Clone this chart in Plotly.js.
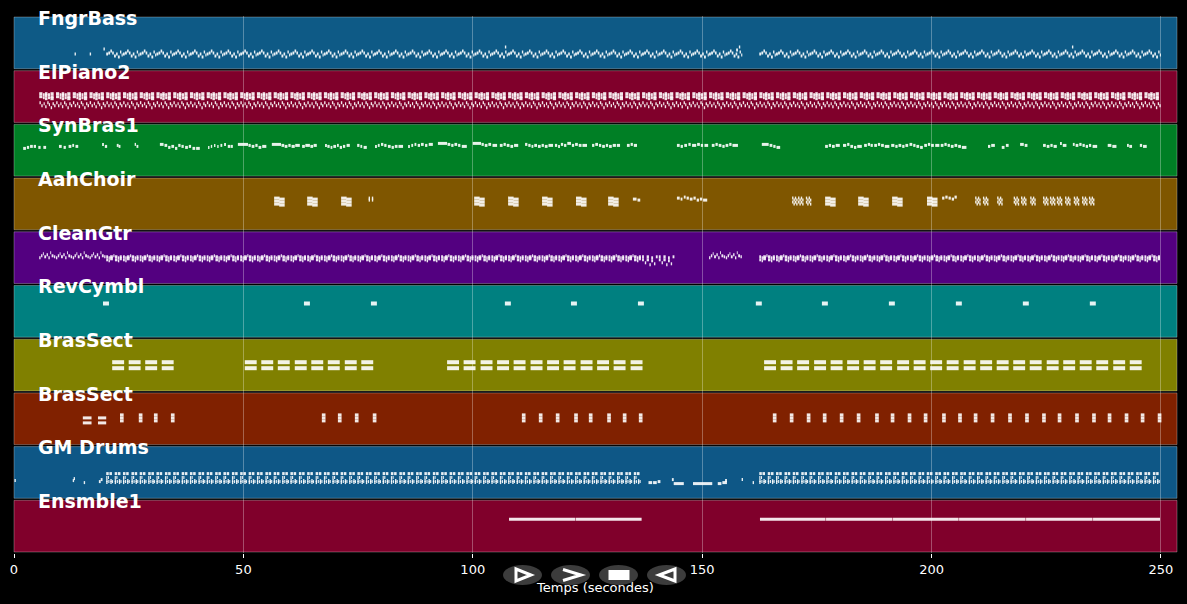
<!DOCTYPE html>
<html><head><meta charset="utf-8">
<script src="https://cdn.plot.ly/plotly-3.0.1.min.js"></script>
<style>html,body{margin:0;padding:0;background:#000;}#chart{width:1187px;height:604px;}</style>
</head><body><div id="chart"></div>
<script>
// ---------- DATA ----------
const trackNames = ["FngrBass","ElPiano2","SynBras1","AahChoir","CleanGtr","RevCymbl","BrasSect","BrasSect","GM Drums","Ensmble1"];
const trackColors = ["#0e5a86","#80002b","#007f25","#7f5600","#530080","#008080","#808000","#802100","#0e5786","#80002b"];
const xTicks = [0,50,100,150,200,250];
const xTitle = "Temps (secondes)";

// bar start times (seconds) of the song grid
const barTimes = [5.50,9.15,12.80,16.45,20.10,23.75,27.40,31.05,34.70,38.35,42.00,45.65,49.30,52.95,56.60,60.25,63.90,67.55,71.20,74.85,78.50,82.15,85.80,89.45,93.10,96.75,100.40,104.05,107.70,111.35,115.00,118.65,122.30,125.95,129.60,133.25,136.90,140.55,144.20,147.85,151.50,155.15,158.80,162.45,166.10,169.75,173.40,177.05,180.70,184.35,188.00,191.65,195.30,198.95,202.60,206.25,209.90,213.55,217.20,220.85,224.50,228.15,231.80,235.45,239.10,242.75,246.40,250.05];

// motifs: [offset in bar (s), duration (s), pitch]
const bassBar = [[0.00,0.40,40],[0.45,0.40,41],[0.90,0.35,43],[1.30,0.35,41],[1.70,0.40,38],[2.15,0.35,40],[2.55,0.40,37],[3.00,0.30,42],[3.35,0.25,39]];
const bassBars = [[4,41],[43,66]];
const bassExtra = [[13.2,0.3,40],[16.5,0.3,40],[19.5,0.3,45],[107.0,0.3,47],[157.4,0.4,44],[158.0,0.3,47],[230.6,0.3,47]];

const pianoBar = [[0.00,0.70,67],[0.00,0.70,64],[0.80,0.40,66],[0.80,0.40,63],[1.25,0.55,67],[1.25,0.55,65],[1.25,0.55,62],[1.90,0.45,66],[1.90,0.45,63],[2.45,0.70,67],[2.45,0.70,64],[2.45,0.70,62],
  [0.05,0.30,58],[0.45,0.30,55],[0.95,0.25,57],[1.30,0.30,54],[1.75,0.30,58],[2.10,0.25,56],[2.50,0.30,53],[2.90,0.30,57],[3.25,0.30,55]];
const pianoBars = [[0,66]];

const synNotes = [[2.0,0.6,58],[2.8,0.5,59],[3.5,0.6,60],[4.3,0.5,60],[5.3,0.5,59],[6.4,0.6,59],
 [9.8,0.6,60],[10.8,0.5,59],[11.9,0.6,60],[12.7,0.4,61],[13.4,0.6,60],
 [19.2,0.4,62],[19.8,0.5,60],[22.4,0.4,61],[22.8,0.4,60],[26.3,0.3,62],[26.7,0.4,60],
 [31.8,0.8,62],[32.8,0.6,61],[33.6,0.5,59],[34.3,0.6,60],[35.1,0.5,58],[35.8,0.5,61],[36.5,0.5,60],[37.3,0.6,59],[38.1,0.5,60],[38.9,0.6,58],[39.7,0.8,58],
 [42.3,0.3,59],[42.9,0.3,60],[43.6,0.3,61],[44.3,0.3,60],[45.0,0.4,61],[45.8,0.4,62],[46.6,0.5,60],[47.2,0.5,60],
 [48.8,2.2,62],[51.1,0.5,61],[51.8,0.6,60],[52.6,0.5,61],[53.3,0.6,59],[54.1,0.9,60],
 [56.2,2.0,62],[58.3,0.6,61],[59.0,0.6,60],[59.8,0.5,61],[60.5,0.7,60],[61.3,1.0,61],
 [62.8,0.6,60],[63.5,1.0,61],[64.6,0.6,60],[65.3,0.7,61],
 [67.8,0.4,61],[68.3,0.5,60],[69.0,0.4,59],[69.6,0.6,60],[70.4,0.4,61],[71.0,0.5,59],[71.7,0.5,60],[72.5,0.7,61],
 [74.8,0.5,61],[75.5,0.4,60],[76.2,0.7,59],
 [78.7,0.4,60],[79.3,0.4,61],[80.0,0.5,62],[80.7,0.5,61],[81.5,0.6,60],[82.3,0.5,59],[83.0,0.6,60],[83.8,1.0,60],
 [85.9,0.4,60],[86.6,0.4,61],[87.3,0.4,62],[88.0,0.5,61],[88.7,0.6,62],[89.6,0.5,61],[90.4,0.9,62],
 [92.4,2.0,63],[94.5,0.6,62],[95.3,0.5,61],[96.0,0.6,62],[96.8,0.5,61],[97.6,1.1,60],
 [100.0,1.8,63],[101.9,0.5,62],[102.6,0.6,61],[103.4,0.6,62],[104.3,1.0,61],
 [105.9,0.6,61],[106.7,0.5,62],[107.4,0.6,61],[108.2,0.6,60],[109.0,0.9,61],
 [111.4,0.5,62],[112.1,0.5,61],[112.8,0.4,60],[113.4,0.6,61],[114.2,0.6,60],[115.0,0.5,61],[115.7,0.6,60],[116.5,1.0,61],
 [117.9,0.5,61],[118.6,0.4,60],[119.2,0.5,62],[119.9,0.5,61],[120.6,0.8,63],[121.6,0.5,61],[122.3,0.6,62],[123.1,0.6,61],[123.9,1.0,61],
 [126.0,0.5,61],[126.7,0.6,62],[127.5,0.5,61],[128.2,0.6,60],[129.0,0.5,61],[129.7,0.6,60],[130.5,0.7,61],[131.4,0.7,61],
 [133.6,0.6,61],[134.4,0.5,62],[135.1,0.7,61],
 [144.5,0.6,61],[145.3,0.5,60],[146.1,0.6,61],[147.0,0.5,62],[147.8,0.9,61],[148.9,0.6,62],[149.7,0.5,61],[150.5,0.8,61],
 [152.1,0.6,61],[152.9,0.5,62],[153.6,0.6,61],[154.4,0.5,60],[155.1,0.6,61],[155.9,0.5,62],[156.6,1.2,61],
 [163.0,1.5,62],[164.7,0.6,61],[165.5,0.5,60],[166.2,0.8,59],
 [176.8,0.6,60],[177.6,0.5,61],[178.3,0.6,60],[179.1,0.9,61],
 [180.7,0.7,61],[181.6,0.5,62],[182.3,0.6,60],[183.1,0.5,59],[183.8,1.0,60],[185.3,0.6,61],[186.1,0.5,62],[186.7,0.5,61],
 [187.5,0.6,61],[188.3,0.5,62],[189.0,0.6,61],[189.8,1.0,60],[191.2,0.7,61],[192.1,0.5,60],[192.8,0.6,61],[193.6,0.5,60],[194.3,0.6,61],
 [195.2,0.6,62],[196.0,0.5,61],[196.7,0.6,60],[197.5,0.6,59],[198.4,0.6,61],[199.2,0.5,62],[199.9,0.6,61],[200.8,0.9,61],
 [202.0,0.6,61],[202.8,0.5,62],[203.5,0.5,61],[204.2,0.6,60],[205.0,0.6,61],[205.8,0.6,60],[206.6,1.0,59],
 [212.3,0.5,60],[213.0,0.8,61],[215.3,0.6,59],[216.2,0.6,61],[219.3,0.8,62],[220.3,0.6,61],
 [224.3,0.6,61],[225.1,0.6,60],[225.9,0.5,61],[226.6,0.7,60],[228.0,0.4,63],[228.6,0.8,61],
 [230.8,0.4,62],[231.4,0.6,61],[232.2,0.5,62],[232.9,0.5,61],[233.6,0.5,60],[234.3,0.5,61],[235.1,1.0,60],
 [238.4,0.8,61],[239.4,0.9,60],[242.6,0.4,61],[243.1,0.6,60],[245.4,0.5,61],[246.1,0.8,60]];

const choirBlock = [[0,1.2,64],[0,1.2,61],[0,1.2,58],[1.1,1.2,63],[1.1,1.2,60],[1.1,1.2,57]];
const choirBlockStarts = [56.7,63.9,71.3,100.3,107.7,115.1,122.5,129.5,176.8,184.0,191.4,199.0];
const choirDots = [[0,0.3,64],[0.6,0.3,64],[0.3,0.3,62],[0.9,0.3,62],[0,0.3,60],[0.6,0.3,60],[0.3,0.3,58],[0.9,0.3,58]];
const choirDotStarts = [169.6,170.9,172.6,209.5,211.2,214.3,217.9,219.5,221.5,224.3,225.8,227.3,229.1,231.0,232.8,234.3];
const choirNotes = [[77.3,0.3,64],[77.3,0.3,62],[78.0,0.3,64],[78.0,0.3,62],[134.9,0.8,63],[135.9,0.6,62],
 [144.5,0.6,64],[145.3,0.4,63],[146.0,0.4,65],[146.6,0.5,64],[147.3,0.6,63],[148.1,0.5,64],[148.8,0.5,62],[149.5,0.5,63],[150.2,0.9,62],
 [202.3,0.5,64],[203.0,0.5,65],[203.7,0.5,64],[204.4,0.5,63],[205.0,0.5,65]];

const gtrBar = [[0.00,0.40,62],[0.00,0.40,59],[0.50,0.30,61],[0.50,0.30,58],[0.85,0.60,62],[0.85,0.60,60],[1.55,0.25,63],[1.90,0.55,62],[1.90,0.55,59],[2.55,0.30,61],[2.55,0.30,58],[2.95,0.45,62],[2.95,0.45,60]];
const gtrBars = [[4,35],[43,66]];
const gtrIntro = [[0.0,0.3,61],[0.4,0.3,63],[0.8,0.2,65],[1.1,0.4,62],[1.6,0.3,64],[2.0,0.3,61],[2.4,0.2,66],[2.7,0.4,63],[3.2,0.3,62]];
const gtrIntroBars = [[0,3],[40,41]];
const gtrLow = [[0.0,0.4,62],[0.0,0.4,59],[0.6,0.3,56],[1.0,0.5,62],[1.0,0.5,59],[1.6,0.3,54],[2.0,0.4,61],[2.0,0.4,58],[2.6,0.3,55],[3.0,0.4,62]];
const gtrLowBars = [[36,37]];

const cymbalStarts = [19.4,63.2,77.8,107.0,121.4,136.0,161.7,176.1,190.7,205.3,219.9,234.5];
const cymbalNote = [[0,1.3,60]];

const oliveChord = [[0,2.6,63],[0,2.6,57]];
const oliveStarts = [21.4,25.0,28.6,32.2,
 50.3,53.9,57.5,61.2,64.8,68.4,72.1,75.7,
 94.4,98.0,101.7,105.3,108.9,112.6,116.2,119.8,123.5,127.1,130.7,134.4,
 163.5,167.1,170.7,174.4,178.0,181.6,185.2,188.8,192.5,196.1,199.7,203.3,207.0,210.6,214.2,217.8,221.4,225.1,228.7,232.3,235.9,239.6,243.2];

const redMark = [[0,0.8,64],[0,0.8,61],[0,0.8,58]];
const redStarts = [23.1,27.2,30.5,34.2,67.1,70.6,74.3,78.2,
 110.7,114.4,118.1,122.1,125.3,129.3,132.7,136.2,
 165.4,169.1,172.8,176.3,180.0,183.7,187.7,191.1,194.8,198.3,202.3,205.8,209.2,212.9,216.7,220.4,224.1,227.5,231.3,235.0,238.4,242.1,245.6,249.3];
const redNotes = [[15.0,1.9,61],[15.0,1.9,56],[18.3,1.8,61],[18.3,1.8,56]];

const drumBar = [[0.00,0.55,65],[0.70,0.55,65],[1.85,0.55,65],[2.55,0.55,65],
 [0.00,0.25,61],[0.35,0.25,61],[1.85,0.25,61],[2.20,0.25,61],
 [0.00,0.30,58],[0.00,0.30,56],[0.45,0.25,57],[0.90,0.30,58],[0.90,0.30,56],[1.25,0.25,57],
 [1.85,0.30,58],[1.85,0.30,56],[2.30,0.25,57],[2.75,0.30,58],[2.75,0.30,56],[3.10,0.25,57]];
const drumBars = [[4,35],[43,66]];
const drumNotes = [[0.1,0.3,58],[12.8,0.3,58],[13.0,0.3,60],[15.2,0.3,56],[18.5,0.4,57],[18.9,0.4,59],
 [138.3,0.8,56],[139.3,0.8,56],[140.3,0.6,57],[143.4,0.4,59],[143.8,2.2,55],[148.0,4.2,55],[153.4,0.8,55],[154.4,1.0,56],[155.0,0.4,58],[158.6,0.3,59],[161.0,0.3,56]];

const ensNotes = [[107.9,14.4,60],[122.4,14.4,60],[162.6,14.3,60],[177.0,14.5,60],[191.6,14.3,60],[206.0,14.5,60],[220.6,14.5,60],[235.2,14.6,60]];

// ---------- BUILD ----------
function fromBars(motif, ranges){const out=[];for(const [a,b] of ranges){for(let i=a;i<=b;i++){for(const [o,d,p] of motif){out.push([barTimes[i]+o,d,p]);}}}return out;}
function fromStarts(motif, starts){const out=[];for(const s of starts){for(const [o,d,p] of motif){out.push([s+o,d,p]);}}return out;}

const trackNotes = [
  fromBars(bassBar,bassBars).concat(bassExtra),
  fromBars(pianoBar,pianoBars),
  synNotes,
  fromStarts(choirBlock,choirBlockStarts).concat(fromStarts(choirDots,choirDotStarts),choirNotes),
  fromBars(gtrBar,gtrBars).concat(fromBars(gtrIntro,gtrIntroBars),fromBars(gtrLow,gtrLowBars)),
  fromStarts(cymbalNote,cymbalStarts),
  fromStarts(oliveChord,oliveStarts),
  fromStarts(redMark,redStarts).concat(redNotes),
  fromBars(drumBar,drumBars).concat(drumNotes),
  ensNotes
];
// display: [anchor pitch, px below band top for anchor, line width]
const disp = [[40,38,3],[60,31,3],[60,23,3],[60,25,3],[60,28,3],[60,19,4],[60,27,4],[60,27,3],[60,33,3],[60,20,3]];
const W=1187,H=604,L=14,R=1177,T=16,B=553;
const N = trackNames.length;
const BANDPX = (B-T)/N;
const XMAX = 253.5;

const traces = [];
const shapes = [];
const annotations = [];
for(let k=0;k<N;k++){
  const top = N-k;
  shapes.push({type:'rect',xref:'paper',yref:'y',x0:0,x1:1,y0:top-1+0.019,y1:top-0.019,fillcolor:trackColors[k],line:{color:'rgba(255,255,255,0.28)',width:1},layer:'below'});
  const xs=[],ys=[];
  const [ap,apx,lw]=disp[k];
  for(const [s,d,p] of trackNotes[k]){
    const y = top - (apx - (p-ap))/BANDPX;
    xs.push(s,s+d,null); ys.push(y,y,null);
  }
  traces.push({type:'scatter',mode:'lines',x:xs,y:ys,line:{color:'rgba(255,255,255,0.9)',width:lw},hoverinfo:'skip',showlegend:false,connectgaps:false});
  annotations.push({xref:'paper',yref:'y',x:0.0189,y:top-0.035,xanchor:'left',yanchor:'middle',text:trackNames[k],showarrow:false,
    font:{family:'DejaVu Sans',size:19,color:'#ffffff',weight:'bold'}});
}
// invisible trace that holds the overlay axis carrying the axis title (drawn under the play controls)
traces.push({type:'scatter',mode:'markers',x:[XMAX/2],y:[0],xaxis:'x2',yaxis:'y',marker:{opacity:0,size:1},hoverinfo:'skip',showlegend:false});

// play-control decorations (pixel -> paper)
const px=(v)=>(v-L)/(R-L), py=(v)=>(B-v)/(B-T);
const btnCx=[522.5,570.5,618.5,666.5];
for(const cx of btnCx){
  shapes.push({type:'circle',xref:'paper',yref:'paper',x0:px(cx-19.5),x1:px(cx+19.5),y0:py(585),y1:py(565),fillcolor:'#3c3c3c',line:{width:0},layer:'above'});
}
const P=(pts,close)=>'M'+pts.map(([a,b])=>px(a).toFixed(5)+','+py(b).toFixed(5)).join(' L')+(close?' Z':'');
shapes.push({type:'path',xref:'paper',yref:'paper',path:P([[516,569],[531,575],[516,581]],true),line:{color:'#fff',width:3},layer:'above'});
shapes.push({type:'path',xref:'paper',yref:'paper',path:P([[563,569.5],[581,575],[563,580.5]],false),line:{color:'#fff',width:3},layer:'above'});
shapes.push({type:'rect',xref:'paper',yref:'paper',x0:px(608.5),x1:px(629.5),y0:py(580),y1:py(570),fillcolor:'#fff',line:{width:0},layer:'above'});
shapes.push({type:'path',xref:'paper',yref:'paper',path:P([[675,569],[659,575],[675,581]],true),line:{color:'#fff',width:3},layer:'above'});

const layout = {
  width:W,height:H,
  paper_bgcolor:'#000',plot_bgcolor:'#000',
  margin:{l:L,r:W-R,t:T,b:H-B},
  font:{family:'DejaVu Sans',color:'#fff'},
  xaxis:{range:[0,XMAX],tickvals:xTicks,ticktext:xTicks.map(String),showgrid:true,gridcolor:'rgba(255,255,255,0.3)',gridwidth:1,
    ticks:'outside',ticklen:4,tickcolor:'#fff',tickfont:{family:'DejaVu Sans',size:13,color:'#fff'},zeroline:false,showline:false},
  xaxis2:{overlaying:'x',anchor:'y',side:'bottom',range:[0,XMAX],tickvals:[XMAX/2],ticktext:[xTitle],showgrid:false,zeroline:false,showline:false,
    ticks:'outside',ticklen:22,tickcolor:'rgba(0,0,0,0)',tickfont:{family:'DejaVu Sans',size:13,color:'#fff'}},
  yaxis:{range:[0,N],showgrid:false,showticklabels:false,zeroline:false,ticks:'',fixedrange:true},
  shapes:shapes,annotations:annotations,showlegend:false
};
Plotly.newPlot('chart',traces,layout,{displayModeBar:false,staticPlot:true});
</script></body></html>
